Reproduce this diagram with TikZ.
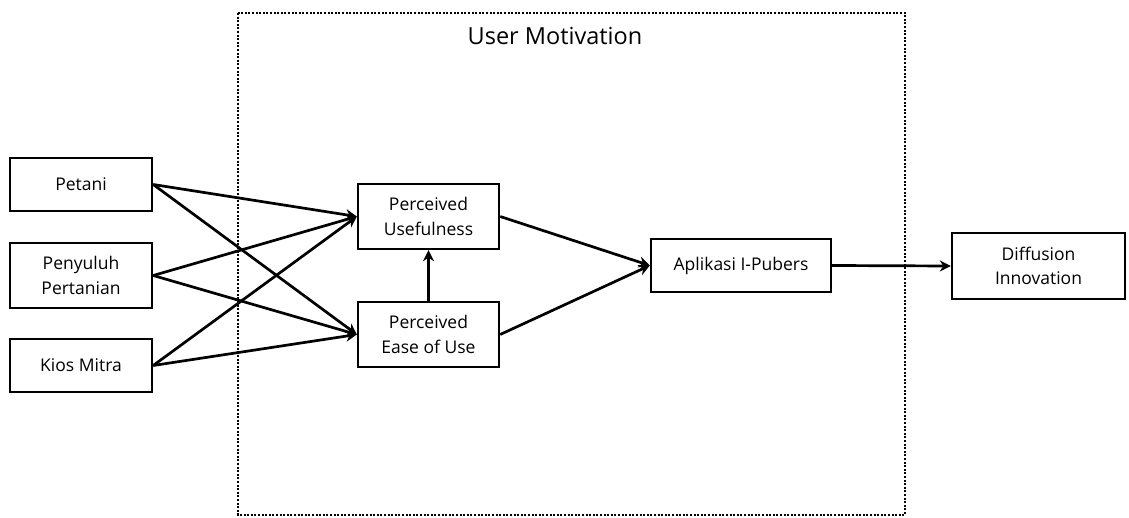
\documentclass[tikz,border=0pt]{standalone}
\usepackage{fontspec}
\setmainfont{Open Sans}
\usetikzlibrary{arrows.meta}
\tikzset{
    varbox/.style={draw, line width=2.4pt, align=center, font=\fontsize{17.5}{24.5}\selectfont, inner sep=2pt},
    link/.style={-{Stealth[length=11pt,width=11pt]}, line width=2.7pt}
}

\begin{document}
\begin{tikzpicture}[x=1pt,y=-1pt]
    \useasboundingbox (0,0) rectangle (1129,518);
    % Draw the dotted frame
    \draw[line width=2.6pt, dash pattern=on 2pt off 1.6pt] (238,13) rectangle (905,515);
    \node (title) at (555,36) {\fontsize{23.5}{28}\selectfont User Motivation};
    % Draw the boxes
    \node[varbox, minimum width=142pt, minimum height=53pt] (petani) at (81,184.5) {Petani};
    \node[varbox, minimum width=142pt, minimum height=65pt] (penyuluh) at (81,275.5) {Penyuluh\\Pertanian};
    \node[varbox, minimum width=142pt, minimum height=53pt] (kios) at (81,365.5) {Kios Mitra};
    \node[varbox, minimum width=141pt, minimum height=65pt] (pu) at (428.5,216.5) {Perceived\\Usefulness};
    \node[varbox, minimum width=141pt, minimum height=65pt] (peou) at (428.5,334.5) {Perceived\\Ease of Use};
    \node[varbox, minimum width=180pt, minimum height=53pt] (aplikasi) at (741,265.5) {Aplikasi I-Pubers};
    \node[varbox, minimum width=173pt, minimum height=66pt] (diffusion) at (1038.5,266) {Diffusion\\Innovation};
    % Draw the arrows
    \draw[link] (petani.east) -- (pu.west);
    \draw[link] (petani.east) -- (peou.west);
    \draw[link] (penyuluh.east) -- (pu.west);
    \draw[link] (penyuluh.east) -- (peou.west);
    \draw[link] (kios.east) -- (pu.west);
    \draw[link] (kios.east) -- (peou.west);
    \draw[link] (peou.north) -- (pu.south);
    \draw[link] (pu.east) -- (aplikasi.west);
    \draw[link] (peou.east) -- (aplikasi.west);
    \draw[link] (aplikasi.east) -- (diffusion.west);
\end{tikzpicture}
\end{document}
